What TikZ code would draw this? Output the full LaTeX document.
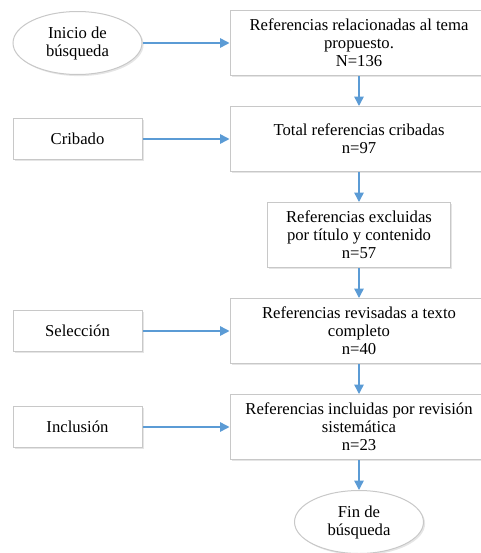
\documentclass[tikz,border=0pt]{standalone}
\usepackage{fontspec}
\setmainfont{Liberation Serif}
\usepackage{tikz}
\usetikzlibrary{arrows.meta,positioning,shapes.geometric,shadows}
\definecolor{boxgray}{HTML}{C8C8C8}
\definecolor{arrowblue}{HTML}{5B9BD5}

\begin{document}
\begin{tikzpicture}[
  box/.style={rectangle, draw=boxgray, fill=white, line width=0.75pt,
              minimum width=193.5pt, minimum height=48.75pt,
              font=\fontsize{12.5}{13.5}\selectfont, align=center, inner sep=1pt,
              drop shadow={shadow xshift=1.2pt, shadow yshift=-1.2pt,
                           opacity=0.25, fill=black!40}},
  smallbox/.style={box, minimum width=137.25pt},
  stage/.style={box, minimum width=96.75pt, minimum height=30.75pt},
  terminal/.style={ellipse, draw=boxgray, fill=white, line width=0.75pt,
              minimum width=96.75pt, minimum height=47.25pt, inner sep=0pt,
              font=\fontsize{12.5}{13.5}\selectfont, align=center,
              drop shadow={shadow xshift=1.2pt, shadow yshift=-1.2pt,
                           opacity=0.25, fill=black!40}},
  arr/.style={-{Triangle[length=7pt,width=7pt]}, draw=arrowblue,
              fill=arrowblue, line width=1.1pt},
  node distance=22.5pt and 65.25pt
]
  \useasboundingbox (0,0) rectangle (360pt,-414.75pt);

  \node[box] (refs) at (269.25pt,-32.25pt)
    {Referencias relacionadas al tema\\propuesto.\\N=136};
  \node[box, below=of refs] (crib)
    {Total referencias cribadas\\n=97};
  \node[smallbox, below=of crib] (excl)
    {Referencias excluidas\\por título y contenido\\n=57};
  \node[box, below=of excl] (rev)
    {Referencias revisadas a texto\\completo\\n=40};
  \node[box, below=of rev] (incl)
    {Referencias incluidas por revisión\\sistemática\\n=23};
  \node[terminal, below=of incl] (fin)
    {Fin de\\búsqueda};

  \node[terminal, left=of refs] (inicio) {Inicio de\\búsqueda};
  \node[stage, left=of crib] (cribado) {Cribado};
  \node[stage, left=of rev] (seleccion) {Selección};
  \node[stage, left=of incl] (inclusion) {Inclusión};

  \draw[arr] (refs) -- (crib);
  \draw[arr] (crib) -- (excl);
  \draw[arr] (excl) -- (rev);
  \draw[arr] (rev) -- (incl);
  \draw[arr] (incl) -- (fin);
  \draw[arr] (inicio) -- (refs);
  \draw[arr] (cribado) -- (crib);
  \draw[arr] (seleccion) -- (rev);
  \draw[arr] (inclusion) -- (incl);
\end{tikzpicture}
\end{document}
